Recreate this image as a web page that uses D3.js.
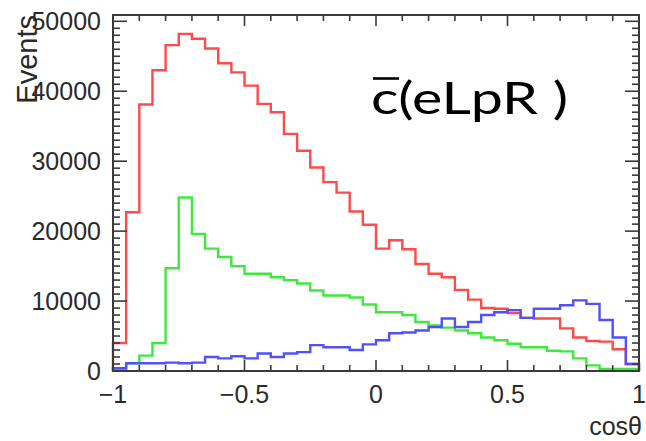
<!DOCTYPE html>
<html>
<head>
<meta charset="utf-8">
<script src="https://cdn.jsdelivr.net/npm/d3@7"></script>
<style>
  body { margin: 0; background: #fff; }
  svg { display: block; }
</style>
</head>
<body>
<svg id="chart" width="646" height="441"></svg>
<script>
// ---- data ----
const binEdgesStart = -1, binWidth = 0.05; // 40 bins on [-1, 1]
const redValues = [4000, 22700, 38100, 43000, 46600, 48200, 47500, 46100, 44000, 42700,
                   40800, 38200, 37000, 33900, 31500, 29100, 27000, 25500, 22800, 20900,
                   17500, 18700, 17400, 15300, 13900, 13400, 11600, 10200, 9000, 8900,
                   8300, 7600, 7500, 7500, 6100, 4800, 4300, 4200, 3100, 1000];
const greenValues = [100, 1100, 2200, 4000, 14700, 24800, 19600, 17500, 16300, 15000,
                     13900, 13900, 13400, 13000, 12500, 11500, 10800, 10800, 10500, 9500,
                     8400, 8400, 8000, 7000, 6500, 6200, 5800, 5400, 4800, 4400,
                     3900, 3400, 3400, 2900, 2800, 1800, 800, 300, 300, 300];
const blueValues = [400, 1100, 1100, 1100, 1200, 1100, 1200, 2000, 1800, 2100,
                    1800, 2500, 2000, 2500, 2700, 3700, 3400, 3400, 3000, 3800,
                    4400, 5400, 5500, 5800, 6300, 7500, 6300, 7000, 8000, 8400,
                    8700, 7600, 8900, 8900, 9400, 10100, 9600, 7300, 4800, 1000];
const xTickValues = [-1, -0.5, 0, 0.5, 1];
const xTickLabels = ["\u22121", "\u22120.5", "0", "0.5", "1"];
const yTickValues = [0, 10000, 20000, 30000, 40000, 50000];
const yTickLabels = ["0", "10000", "20000", "30000", "40000", "50000"];
const xTitle = "cos\u03b8";
const yTitle = "Events";
const labelText = "c(eLpR )";

const series = [
  {name: "red", values: redValues, color: "#ff4a4a"},
  {name: "green", values: greenValues, color: "#3fe83f"},
  {name: "blue", values: blueValues, color: "#5050ff"}
];

// ---- layout ----
const svg = d3.select("#chart");
const L = 113, R = 639, T = 15, B = 371;
const x = d3.scaleLinear().domain([-1, 1]).range([L, R]);
const y = d3.scaleLinear().domain([0, 50900]).range([B, T]);
const axisColor = "#3a3a3a";
const textColor = "#2a2a2a";
const font = "'Liberation Sans', Arial, sans-serif";

// histograms
function stepPath(vals) {
  const pts = [[x(-1), y(0)]];
  vals.forEach((v, i) => {
    const x0 = binEdgesStart + i * binWidth, x1 = x0 + binWidth;
    pts.push([x(x0), y(v)]);
    pts.push([x(x1), y(v)]);
  });
  pts.push([x(1), y(0)]);
  return d3.line()(pts);
}
series.forEach(s => {
  svg.append("path")
    .attr("d", stepPath(s.values))
    .attr("fill", "none")
    .attr("stroke", s.color)
    .attr("stroke-width", 2.4)
    .attr("stroke-linejoin", "miter");
});

// frame
svg.append("rect")
  .attr("x", L).attr("y", T).attr("width", R - L).attr("height", B - T)
  .attr("fill", "none").attr("stroke", axisColor).attr("stroke-width", 2);

// axes via d3 (ticks drawn inward)
const xMajor = 11, xMinor = 6, yMajor = 14, yMinor = 7;
const xAxisBottom = d3.axisTop(x).tickValues(d3.range(-1, 1.0001, 0.1).map(v => +v.toFixed(2)))
  .tickSize(0).tickFormat("");
const gxb = svg.append("g").attr("transform", `translate(0,${B})`);
const gxt = svg.append("g").attr("transform", `translate(0,${T})`);
const xMinorVals = d3.range(-10, 11).map(i => i / 10);
[gxb, gxt].forEach((g, k) => {
  const dir = k === 0 ? -1 : 1;
  g.selectAll("line.mn").data(xMinorVals).enter().append("line")
    .attr("x1", d => x(d)).attr("x2", d => x(d))
    .attr("y1", 0).attr("y2", d => dir * (xTickValues.some(t => Math.abs(t - d) < 1e-6) ? xMajor : xMinor))
    .attr("stroke", axisColor).attr("stroke-width", 1.6);
});
const yMinorVals = d3.range(0, 51, 1).map(i => i * 1000);
const gyl = svg.append("g").attr("transform", `translate(${L},0)`);
const gyr = svg.append("g").attr("transform", `translate(${R},0)`);
[gyl, gyr].forEach((g, k) => {
  const dir = k === 0 ? 1 : -1;
  g.selectAll("line.mn").data(yMinorVals).enter().append("line")
    .attr("x1", 0).attr("x2", d => dir * (d % 10000 === 0 ? yMajor : yMinor))
    .attr("y1", d => y(d)).attr("y2", d => y(d))
    .attr("stroke", axisColor).attr("stroke-width", 1.6);
});

// tick labels
svg.append("g").selectAll("text").data(xTickValues).enter().append("text")
  .attr("x", d => x(d)).attr("y", 403)
  .attr("text-anchor", "middle")
  .attr("font-family", font).attr("font-size", 25).attr("fill", textColor)
  .text((d, i) => xTickLabels[i]);
svg.append("g").selectAll("text").data(yTickValues).enter().append("text")
  .attr("x", 101).attr("y", d => y(d) + 9)
  .attr("text-anchor", "end")
  .attr("font-family", font).attr("font-size", 25).attr("fill", textColor)
  .text((d, i) => yTickLabels[i]);

// axis titles
svg.append("text")
  .attr("transform", `translate(37,15) rotate(-90)`)
  .attr("text-anchor", "end")
  .attr("font-family", font).attr("font-size", 29).attr("fill", textColor)
  .text(yTitle);
svg.append("text")
  .attr("x", 642).attr("y", 435)
  .attr("text-anchor", "end")
  .attr("font-family", font).attr("font-size", 25).attr("fill", textColor)
  .text(xTitle);

// in-plot label c̄(eLpR )
svg.append("text")
  .attr("x", 371).attr("y", 114)
  .attr("font-family", "Lato, 'Open Sans', sans-serif").attr("font-size", 44)
  .attr("fill", "#000")
  .attr("textLength", 197).attr("lengthAdjust", "spacingAndGlyphs")
  .text(labelText);
svg.append("line")
  .attr("x1", 373).attr("x2", 399).attr("y1", 78.5).attr("y2", 78.5)
  .attr("stroke", "#000").attr("stroke-width", 2.6);
</script>
</body>
</html>
